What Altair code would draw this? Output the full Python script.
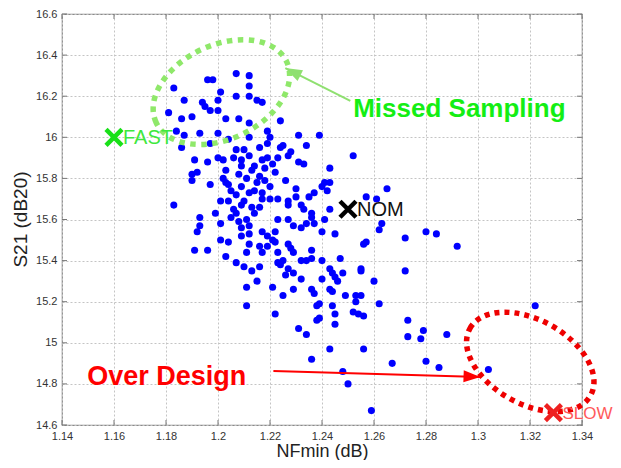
import altair as alt
import pandas as pd

# ---------------- data (NFmin dB, S21 dB20) ----------------
upper_points = [
    (1.183, 16.24), (1.181, 16.12), (1.187, 16.18), (1.184, 16.03), (1.187, 16.01),
    (1.196, 16.28), (1.198, 16.28), (1.207, 16.31), (1.212, 16.30), (1.212, 16.25),
    (1.201, 16.22), (1.200, 16.18), (1.207, 16.20), (1.212, 16.20), (1.194, 16.17),
    (1.195, 16.15), (1.197, 16.13), (1.200, 16.13), (1.190, 16.10), (1.186, 16.09),
    (1.203, 16.09), (1.208, 16.09), (1.212, 16.07), (1.215, 16.18), (1.217, 16.17),
    (1.193, 16.02), (1.200, 16.02), (1.212, 16.00), (1.219, 16.03), (1.224, 16.08),
    (1.220, 16.00), (1.231, 16.01), (1.239, 16.01),
    (1.186, 15.95), (1.197, 15.97), (1.204, 15.99), (1.207, 15.94), (1.210, 15.94),
    (1.216, 15.95), (1.219, 15.97), (1.225, 15.96), (1.224, 15.95), (1.234, 15.96),
    (1.228, 15.93), (1.227, 15.91), (1.252, 15.91), (1.200, 15.90), (1.219, 15.90),
    (1.206, 15.90), (1.212, 15.91), (1.223, 15.90),
]

middle_points = [
    (1.191, 15.89), (1.196, 15.88), (1.202, 15.89), (1.209, 15.89), (1.217, 15.89),
    (1.221, 15.87), (1.218, 15.85), (1.222, 15.83), (1.231, 15.88), (1.233, 15.87),
    (1.243, 15.85), (1.190, 15.82), (1.192, 15.83), (1.197, 15.77), (1.203, 15.84),
    (1.209, 15.86), (1.214, 15.86), (1.208, 15.82), (1.211, 15.80), (1.202, 15.80),
    (1.204, 15.77), (1.216, 15.81), (1.218, 15.79), (1.226, 15.79), (1.230, 15.75),
    (1.241, 15.78), (1.243, 15.78), (1.213, 15.84), (1.215, 15.78), (1.220, 15.76),
    (1.205, 15.74), (1.209, 15.76), (1.212, 15.73), (1.214, 15.74), (1.217, 15.73),
    (1.217, 15.70), (1.220, 15.70), (1.223, 15.70), (1.227, 15.69), (1.227, 15.67),
    (1.230, 15.71), (1.232, 15.67), (1.233, 15.65), (1.235, 15.71), (1.237, 15.73),
    (1.240, 15.76), (1.242, 15.74), (1.236, 15.63), (1.236, 15.61), (1.243, 15.65),
    (1.257, 15.71), (1.216, 15.66), (1.265, 15.75), (1.261, 15.70),
    (1.183, 15.67), (1.201, 15.69), (1.204, 15.69), (1.209, 15.67), (1.213, 15.66),
    (1.199, 15.63), (1.207, 15.63), (1.214, 15.63), (1.203, 15.78), (1.190, 15.79),
    (1.207, 15.72), (1.210, 15.69), (1.206, 15.65),
]

lower_mid_points = [
    (1.223, 15.60), (1.227, 15.60), (1.229, 15.57), (1.232, 15.56), (1.234, 15.58),
    (1.237, 15.58), (1.241, 15.60), (1.217, 15.54), (1.219, 15.52), (1.222, 15.54),
    (1.240, 15.54), (1.245, 15.53), (1.221, 15.50), (1.222, 15.49), (1.227, 15.48),
    (1.228, 15.46), (1.219, 15.47), (1.217, 15.44), (1.223, 15.44), (1.229, 15.44),
    (1.236, 15.45), (1.256, 15.48), (1.257, 15.49), (1.263, 15.58), (1.262, 15.55),
    (1.272, 15.51), (1.280, 15.54), (1.284, 15.53), (1.292, 15.47),
    (1.193, 15.61), (1.201, 15.58), (1.205, 15.61), (1.211, 15.60), (1.193, 15.57),
    (1.192, 15.54), (1.209, 15.56), (1.212, 15.57), (1.209, 15.52), (1.212, 15.53),
    (1.201, 15.50), (1.204, 15.49), (1.212, 15.48), (1.216, 15.47), (1.191, 15.45),
    (1.196, 15.45), (1.203, 15.42), (1.211, 15.44), (1.208, 15.59),
    (1.207, 15.39), (1.210, 15.37), (1.213, 15.35), (1.216, 15.37), (1.223, 15.39),
    (1.225, 15.40), (1.224, 15.38), (1.227, 15.36), (1.229, 15.34), (1.226, 15.33),
    (1.232, 15.40), (1.234, 15.40), (1.236, 15.41), (1.240, 15.40), (1.247, 15.41),
    (1.243, 15.36), (1.244, 15.34), (1.245, 15.32), (1.248, 15.34), (1.255, 15.36),
    (1.255, 15.35), (1.272, 15.35),
]

lower_points = [
    (1.215, 15.30), (1.211, 15.27), (1.232, 15.31), (1.240, 15.31), (1.246, 15.30),
    (1.260, 15.30), (1.221, 15.27), (1.229, 15.26), (1.236, 15.26), (1.237, 15.24),
    (1.243, 15.26), (1.244, 15.25), (1.249, 15.23), (1.225, 15.23), (1.253, 15.23),
    (1.255, 15.23), (1.253, 15.20), (1.262, 15.19), (1.238, 15.18), (1.239, 15.19),
    (1.244, 15.18), (1.211, 15.18), (1.222, 15.14), (1.245, 15.14), (1.252, 15.15),
    (1.254, 15.14), (1.256, 15.13), (1.273, 15.11), (1.238, 15.11), (1.239, 15.12),
    (1.245, 15.09), (1.231, 15.07),
    (1.234, 15.04), (1.243, 14.97), (1.256, 14.97), (1.236, 14.92), (1.248, 14.86),
    (1.250, 14.80), (1.259, 14.67), (1.273, 15.03), (1.279, 15.06), (1.278, 15.02),
    (1.288, 15.04), (1.267, 14.90), (1.280, 14.91), (1.285, 14.88), (1.304, 14.87),
    (1.322, 15.18),
]

corner_names = ["FAST", "NOM", "SLOW"]
corner_nfmin = [1.160, 1.250, 1.329]
corner_s21 = [16.00, 15.65, 14.66]
corner_marker_colors = ["#19e019", "#000000", "#ee2020"]
corner_text_colors = ["#3ee83e", "#111111", "#ff5a5a"]
corner_font_sizes = [20, 20, 17]

x_ticks = [1.14, 1.16, 1.18, 1.20, 1.22, 1.24, 1.26, 1.28, 1.30, 1.32, 1.34]
y_ticks = [14.6, 14.8, 15.0, 15.2, 15.4, 15.6, 15.8, 16.0, 16.2, 16.4, 16.6]

# annotation anchors (data coordinates)
missed_label = ("Missed Sampling", 1.252, 16.10)
over_label = ("Over Design", 1.1497, 14.795)
missed_ellipse_center = (1.2013, 16.22)
over_ellipse_center = (1.3201, 14.907)
missed_arrow = (1.2509, 16.177, 1.2259, 16.337)   # start x, start y, tip x, tip y
over_arrow = (1.2213, 14.863, 1.3009, 14.834)

# ---------------- build chart ----------------
all_points = upper_points + middle_points + lower_mid_points + lower_points
points_df = pd.DataFrame(all_points, columns=["NFmin", "S21"])

x_scale = alt.Scale(domain=[1.14, 1.34], nice=False, zero=False)
y_scale = alt.Scale(domain=[14.6, 16.6], nice=False, zero=False)

FONT = "Liberation Sans"

x_axis = alt.Axis(values=x_ticks, format="~g", title="NFmin (dB)", labelFont=FONT,
                  labelFontSize=11, labelColor="#333333", labelPadding=5,
                  labelOverlap=False, labelFlush=False, ticks=False, domain=False,
                  grid=True, gridDash=[2, 2], gridColor="#c4c4c4", gridWidth=1,
                  titleFont=FONT, titleFontSize=18, titleFontWeight="normal",
                  titleColor="#222222", titleY=26, titleBaseline="middle")
y_axis = alt.Axis(values=y_ticks, format="~g", title="S21 (dB20)", labelFont=FONT,
                  labelFontSize=11, labelColor="#333333", labelPadding=5,
                  labelOverlap=False, labelFlush=False, ticks=False, domain=False,
                  grid=True, gridDash=[2, 2], gridColor="#c4c4c4", gridWidth=1,
                  titleFont=FONT, titleFontSize=19, titleFontWeight="normal",
                  titleColor="#222222", titleX=-42, titleY=205, titleAngle=270,
                  titleBaseline="middle", titleAlign="center")


def X(field="NFmin"):
    return alt.X(f"{field}:Q", scale=x_scale, axis=x_axis, title="NFmin (dB)")


def Y(field="S21"):
    return alt.Y(f"{field}:Q", scale=y_scale, axis=y_axis, title="S21 (dB20)")


scatter = alt.Chart(points_df).mark_circle(size=50, color="#0000ff", opacity=1).encode(
    x=X(), y=Y())

# inward tick marks on all four sides
xt_df = pd.DataFrame({"NFmin": x_ticks})
yt_df = pd.DataFrame({"S21": y_ticks})
tick_col = "#777777"
ticks_bottom = alt.Chart(xt_df).mark_rule(color=tick_col).encode(x=X(), y=alt.value(411), y2=alt.value(406))
ticks_top = alt.Chart(xt_df).mark_rule(color=tick_col).encode(x=X(), y=alt.value(0), y2=alt.value(5))
ticks_left = alt.Chart(yt_df).mark_rule(color=tick_col).encode(y=Y(), x=alt.value(0), x2=alt.value(5))
ticks_right = alt.Chart(yt_df).mark_rule(color=tick_col).encode(y=Y(), x=alt.value(520), x2=alt.value(515))

# corner markers
corner_df = pd.DataFrame({"NFmin": corner_nfmin, "S21": corner_s21, "name": corner_names,
                          "mcol": corner_marker_colors, "tcol": corner_text_colors,
                          "fs": corner_font_sizes})
x_path = "M-1,-1L1,1M1,-1L-1,1"
corner_marks = alt.Chart(corner_df).mark_point(shape=x_path, size=256, filled=False,
                                               strokeWidth=4.5, opacity=1).encode(
    x=X(), y=Y(), color=alt.Color("mcol:N", scale=None))
corner_text = alt.Chart(corner_df).mark_text(align="left", baseline="middle", dx=9, dy=1,
                                             font=FONT).encode(
    x=X(), y=Y(), text="name:N", color=alt.Color("tcol:N", scale=None),
    size=alt.Size("fs:Q", scale=None))

# dotted ellipses
green_ellipse = alt.Chart(pd.DataFrame({"NFmin": [missed_ellipse_center[0]],
                                        "S21": [missed_ellipse_center[1]]})).mark_point(
    shape="M-1,0A1,0.653,0,1,1,1,0A1,0.653,0,1,1,-1,0", size=20736, angle=335,
    filled=False, color="#8fe86a", strokeWidth=5.5, strokeDash=[5.5, 5.5], opacity=1
).encode(x=X(), y=Y())
red_ellipse = alt.Chart(pd.DataFrame({"NFmin": [over_ellipse_center[0]],
                                      "S21": [over_ellipse_center[1]]})).mark_point(
    shape="M-1,0A1,0.609,0,1,1,1,0A1,0.609,0,1,1,-1,0", size=19044, angle=29,
    filled=False, color="#ee0000", strokeWidth=5.5, strokeDash=[5, 5], opacity=1
).encode(x=X(), y=Y())

# arrows
def arrow_layers(a, color, angle, width):
    df = pd.DataFrame({"NFmin": [a[0]], "S21": [a[1]], "NFmin2": [a[2]], "S21b": [a[3]]})
    line = alt.Chart(df).mark_rule(color=color, strokeWidth=width).encode(
        x=X(), y=Y(), x2="NFmin2:Q", y2="S21b:Q")
    head = alt.Chart(pd.DataFrame({"NFmin": [a[2]], "S21": [a[3]]})).mark_point(
        shape="M0,0L0.75,2.1L-0.75,2.1Z", size=256, angle=angle, filled=True,
        color=color, opacity=1).encode(x=X(), y=Y())
    return [line, head]

green_arrow = arrow_layers(missed_arrow, "#8fe070", 297, 2)
red_arrow = arrow_layers(over_arrow, "#ff0000", 92, 2)

# big labels
label_df = pd.DataFrame({"NFmin": [missed_label[1], over_label[1]],
                         "S21": [missed_label[2], over_label[2]],
                         "txt": [missed_label[0], over_label[0]],
                         "col": ["#14ee14", "#ff0000"]})
missed_text = alt.Chart(label_df.iloc[[0]]).mark_text(
    align="left", baseline="alphabetic", font=FONT, fontSize=26, fontWeight="bold").encode(
    x=X(), y=Y(), text="txt:N", color=alt.Color("col:N", scale=None))
over_text = alt.Chart(label_df.iloc[[1]]).mark_text(
    align="left", baseline="alphabetic", font=FONT, fontSize=27, fontWeight="bold").encode(
    x=X(), y=Y(), text="txt:N", color=alt.Color("col:N", scale=None))

chart = alt.layer(
    scatter, ticks_bottom, ticks_top, ticks_left, ticks_right,
    green_ellipse, red_ellipse, *green_arrow, *red_arrow,
    corner_marks, corner_text, missed_text, over_text,
).properties(
    width=520, height=411, autosize="none",
    padding={"left": 54, "top": 6, "right": 31, "bottom": 35},
    background="white",
).configure_view(stroke="#8a8a8a", strokeWidth=1.2)

chart.save("out.html", embed_options={"renderer": "svg", "actions": False})
